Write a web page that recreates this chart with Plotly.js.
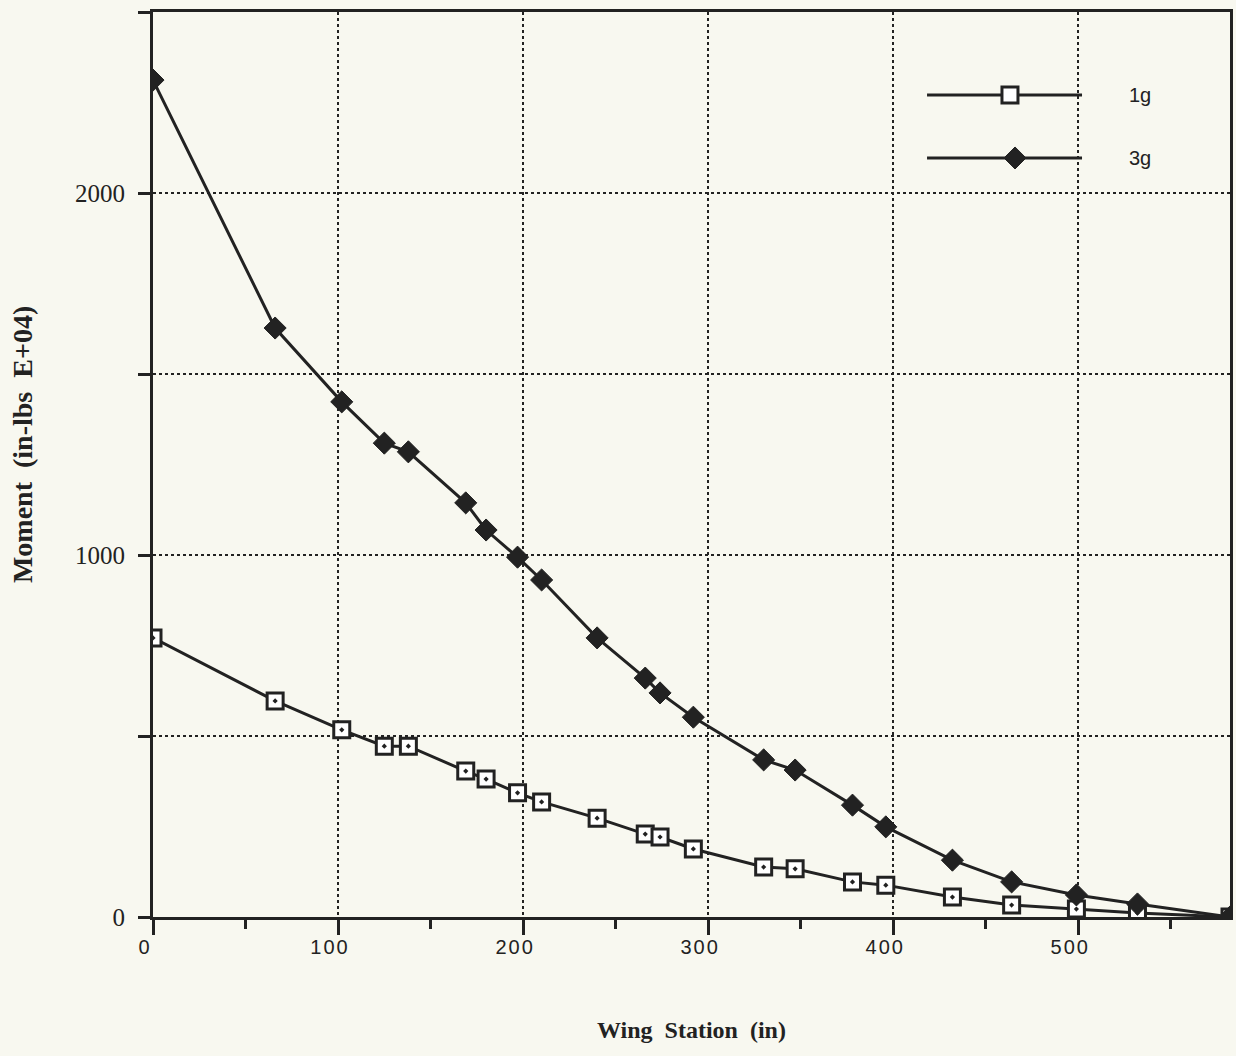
<!DOCTYPE html>
<html>
<head>
<meta charset="utf-8">
<script src="https://cdn.plot.ly/plotly-3.0.1.min.js"></script>
<style>
  html, body { margin: 0; padding: 0; background: #f8f8f0; }
  #chart { width: 1236px; height: 1056px; }
  .xtick text { letter-spacing: 2px; }
</style>
</head>
<body>
<div id="chart"></div>
<script>
// Wing stations (in)
const wingStation = [0, 66, 102, 125, 138, 169, 180, 197, 210, 240, 266, 274, 292, 330, 347, 378, 396, 432, 464, 499, 532, 582];
// Moment (in-lbs E+04), 1g load case
const moment1g = [771, 597, 517, 472, 472, 403, 381, 343, 318, 273, 229, 221, 188, 138, 133, 97, 88, 55, 33, 22, 11, 0];
// Moment (in-lbs E+04), 3g load case
const moment3g = [2312, 1627, 1423, 1309, 1285, 1144, 1069, 994, 931, 771, 660, 619, 552, 434, 406, 309, 249, 157, 97, 61, 36, 0];

const seriesNames = ['1g', '3g'];
const xTickVals = [0, 100, 200, 300, 400, 500];
const yTickVals = [0, 500, 1000, 1500, 2000, 2500];
const yTickText = ['0', '', '1000', '', '2000', ''];

const ink = '#222222';
const bg = '#f8f8f0';

const traces = [
  {
    x: wingStation, y: moment1g, name: seriesNames[0], type: 'scatter', mode: 'lines+markers',
    line: { color: ink, width: 3 },
    marker: { symbol: 'square-dot', size: 16, color: '#ffffff', line: { color: ink, width: 3 } },
    showlegend: false
  },
  {
    x: wingStation, y: moment3g, name: seriesNames[1], type: 'scatter', mode: 'lines+markers',
    line: { color: ink, width: 3 },
    marker: { symbol: 'diamond', size: 17, color: ink, line: { color: ink, width: 1 } },
    showlegend: false
  }
];

// custom legend (long line samples like the original)
const lx0 = 0.7187, lx1 = 0.8626, ly1 = 0.9083, ly2 = 0.8387;
const shapes = [
  { type: 'line', xref: 'paper', yref: 'paper', x0: lx0, x1: lx1, y0: ly1, y1: ly1, line: { color: ink, width: 3 } },
  { type: 'line', xref: 'paper', yref: 'paper', x0: lx0, x1: lx1, y0: ly2, y1: ly2, line: { color: ink, width: 3 } },
  { type: 'rect', xref: 'paper', yref: 'paper', xsizemode: 'pixel', ysizemode: 'pixel',
    xanchor: 0.7957, yanchor: ly1, x0: -8, x1: 8, y0: -8, y1: 8,
    fillcolor: '#ffffff', line: { color: ink, width: 3 } },
  { type: 'path', xref: 'paper', yref: 'paper', xsizemode: 'pixel', ysizemode: 'pixel',
    xanchor: 0.8004, yanchor: ly2, path: 'M -11 0 L 0 11 L 11 0 L 0 -11 Z',
    fillcolor: ink, line: { color: ink, width: 1 } }
];

const annotations = [
  { text: seriesNames[0], xref: 'paper', yref: 'paper', x: 0.9044, y: ly1, xanchor: 'left', yanchor: 'middle',
    showarrow: false, font: { family: 'Liberation Sans, Arial, sans-serif', size: 20, color: ink } },
  { text: seriesNames[1], xref: 'paper', yref: 'paper', x: 0.9044, y: ly2, xanchor: 'left', yanchor: 'middle',
    showarrow: false, font: { family: 'Liberation Sans, Arial, sans-serif', size: 20, color: ink } },
  { text: 'Wing  Station  (in)', xref: 'paper', yref: 'paper', x: 0.5, y: -0.125, xanchor: 'center', yanchor: 'middle',
    showarrow: false, font: { family: 'Liberation Serif, Times New Roman, serif', size: 24, color: ink, weight: 'bold' } },
  { text: 'Moment  (in-lbs  E+04)', xref: 'paper', yref: 'paper', x: -0.1216, y: 0.5215, xanchor: 'center', yanchor: 'middle',
    textangle: -90, showarrow: false, font: { family: 'Liberation Serif, Times New Roman, serif', size: 28, color: ink, weight: 'bold' } }
];

const layout = {
  width: 1236, height: 1056,
  margin: { l: 153, r: 6, t: 12, b: 139 },
  paper_bgcolor: bg, plot_bgcolor: bg,
  showlegend: false,
  xaxis: {
    range: [0, 582], tickvals: xTickVals, ticks: 'outside', ticklen: 15, tickwidth: 3, tickcolor: ink,
    showline: true, linewidth: 3, linecolor: ink, mirror: true, zeroline: false,
    showgrid: true, gridcolor: ink, gridwidth: 2, griddash: 'dot',
    tickfont: { family: 'Liberation Sans, Arial, sans-serif', size: 20, color: ink },
    ticklabelshift: -8, ticklabelstandoff: -5,
    minor: { dtick: 50, tick0: 50, ticks: 'outside', ticklen: 9, tickwidth: 3, tickcolor: ink, showgrid: false },
    fixedrange: true
  },
  yaxis: {
    range: [0, 2500], tickvals: yTickVals, ticktext: yTickText, ticks: 'outside', ticklen: 12, tickwidth: 3, tickcolor: ink,
    showline: true, linewidth: 3, linecolor: ink, mirror: true, zeroline: false,
    showgrid: true, gridcolor: ink, gridwidth: 2, griddash: 'dot',
    tickfont: { family: 'Liberation Serif, Times New Roman, serif', size: 25, color: ink },
    ticklabelstandoff: 8,
    fixedrange: true
  },
  shapes: shapes,
  annotations: annotations
};

Plotly.newPlot('chart', traces, layout, { displayModeBar: false, staticPlot: true });
</script>
</body>
</html>
